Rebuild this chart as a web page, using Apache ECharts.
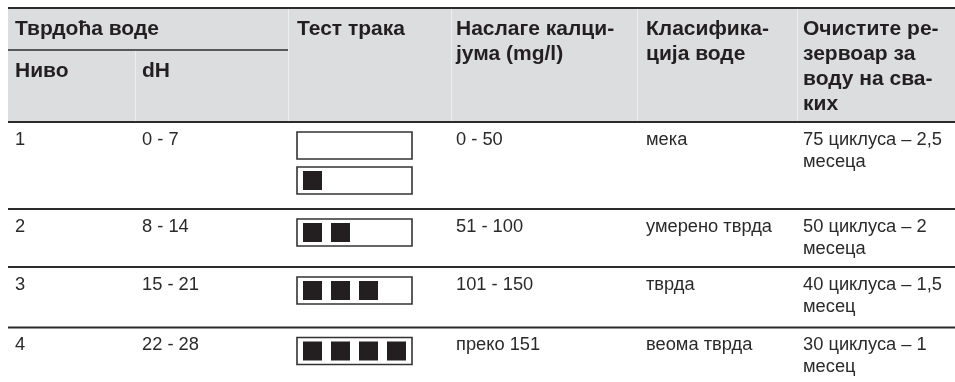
<!DOCTYPE html>
<html>
<head>
<meta charset="utf-8">
<script src="https://cdn.jsdelivr.net/npm/echarts@6/dist/echarts.min.js"></script>
<style>
html,body{margin:0;padding:0;background:#fff;}
#chart{width:955px;height:382px;}
</style>
</head>
<body>
<div id="chart"></div>
<script>
// ---- Data ----
const groupHeader = 'Тврдоћа воде';
const headers = ['Ниво', 'dH', 'Тест трака', 'Наслаге калци-\nјума (mg/l)', 'Класифика-\nција воде', 'Очистите ре-\nзервоар за\nводу на сва-\nких'];
const levels = ['1', '2', '3', '4'];
const dHRanges = ['0 - 7', '8 - 14', '15 - 21', '22 - 28'];
const stripSquares = [[0, 1], [2], [3], [4]];
const calcium = ['0 - 50', '51 - 100', '101 - 150', 'преко 151'];
const classification = ['мека', 'умерено тврда', 'тврда', 'веома тврда'];
const cleaning = ['75 циклуса – 2,5\nмесеца', '50 циклуса – 2\nмесеца', '40 циклуса – 1,5\nмесец', '30 циклуса – 1\nмесец'];

// ---- Layout (positions / sizes / styles) ----
const L = {
  W: 955, H: 382,
  colEdges: [8, 135, 288, 451, 637, 797, 955],
  textX: [15, 142, 297, 456, 646, 803],
  headTop: 8, headMid: 50, headBottom: 122,
  rowTops: [122, 209, 267, 327.5],
  headFont: 'bold 21px "Liberation Sans", Arial, sans-serif',
  bodyFont: '18.3px "Liberation Sans", Arial, sans-serif',
  headLH: 25, bodyLH: 22,
  headFill: '#dcdddf', lineColor: '#2b2b2b', textColor: '#231f20', bodyColor: '#2a2a2a',
  stripW: 115, stripH: 27, stripGap: 35, stripTopOff: 10,
  sq: 19, sqStep: 28, sqPad: 6, sqTop: 4
};

const chart = echarts.init(document.getElementById('chart'), null, {renderer: 'canvas'});

function headerRender(params, api) {
  const p = (x, y) => api.coord([x, y]);
  const ch = [];
  const tl = p(L.colEdges[0], L.headTop), br = p(L.W, L.headBottom);
  ch.push({type: 'rect', shape: {x: tl[0], y: tl[1], width: br[0] - tl[0], height: br[1] - tl[1]}, style: {fill: L.headFill}});
  for (let c = 1; c < L.colEdges.length - 1; c++) {
    const y0 = c === 1 ? L.headMid : L.headTop;
    const a = p(L.colEdges[c], y0), b = p(L.colEdges[c], L.headBottom);
    ch.push({type: 'line', shape: {x1: a[0] + 0.5, y1: a[1], x2: b[0] + 0.5, y2: b[1]}, style: {stroke: '#eeeeee', lineWidth: 1}});
  }
  const hl = (y, x1, x2, w) => {
    const a = p(x1, y), b = p(x2, y);
    ch.push({type: 'line', shape: {x1: a[0], y1: a[1], x2: b[0], y2: b[1]}, style: {stroke: L.lineColor, lineWidth: w}});
  };
  hl(L.headTop, L.colEdges[0], L.W, 2);
  hl(L.headMid, L.colEdges[0], L.colEdges[2], 1.5);
  hl(L.headBottom, L.colEdges[0], L.W, 2);
  const txt = (s, x, y) => {
    const q = p(x, y);
    ch.push({type: 'text', x: q[0], y: q[1], style: {text: s, font: L.headFont, fill: L.textColor, verticalAlign: 'top', align: 'left', lineHeight: L.headLH}});
  };
  txt(groupHeader, L.textX[0], L.headTop + 8.5);
  txt(headers[0], L.textX[0], L.headMid + 8.5);
  txt(headers[1], L.textX[1], L.headMid + 8.5);
  for (let c = 2; c < headers.length; c++) txt(headers[c], L.textX[c], L.headTop + 8.5);
  return {type: 'group', children: ch};
}

function rowRender(params, api) {
  const i = params.dataIndex;
  const p = (x, y) => api.coord([x, y]);
  const top = L.rowTops[i];
  const ch = [];
  if (i > 0) {
    const a = p(L.colEdges[0], top), b = p(L.W, top);
    ch.push({type: 'line', shape: {x1: a[0], y1: a[1], x2: b[0], y2: b[1]}, style: {stroke: L.lineColor, lineWidth: 2}});
  }
  const cells = [levels[i], dHRanges[i], null, calcium[i], classification[i], cleaning[i]];
  cells.forEach((s, c) => {
    if (s === null) return;
    const q = p(L.textX[c], top + 6.5);
    ch.push({type: 'text', x: q[0], y: q[1], style: {text: s, font: L.bodyFont, fill: L.bodyColor, verticalAlign: 'top', align: 'left', lineHeight: L.bodyLH}});
  });
  stripSquares[i].forEach((n, k) => {
    const bt = top + L.stripTopOff + k * L.stripGap;
    const q = p(L.textX[2], bt);
    const sz = api.size([L.stripW, L.stripH]);
    ch.push({type: 'rect', shape: {x: q[0], y: q[1], width: sz[0], height: sz[1]}, style: {fill: '#fff', stroke: '#333', lineWidth: 1.6}});
    for (let s = 0; s < n; s++) {
      const r = p(L.textX[2] + L.sqPad + s * L.sqStep, bt + L.sqTop);
      const ss = api.size([L.sq, L.sq]);
      ch.push({type: 'rect', shape: {x: r[0], y: r[1], width: ss[0], height: ss[1]}, style: {fill: '#231f20'}});
    }
  });
  return {type: 'group', children: ch};
}

chart.setOption({
  animation: false,
  backgroundColor: '#ffffff',
  grid: {left: 0, right: 0, top: 0, bottom: 0},
  xAxis: {type: 'value', min: 0, max: L.W, show: false},
  yAxis: {type: 'value', min: 0, max: L.H, inverse: true, show: false},
  series: [
    {type: 'custom', clip: false, renderItem: headerRender, data: [[0, 0]], silent: true},
    {type: 'custom', clip: false, renderItem: rowRender, data: levels.map((v, i) => [0, L.rowTops[i]]), silent: true}
  ]
});
</script>
</body>
</html>
